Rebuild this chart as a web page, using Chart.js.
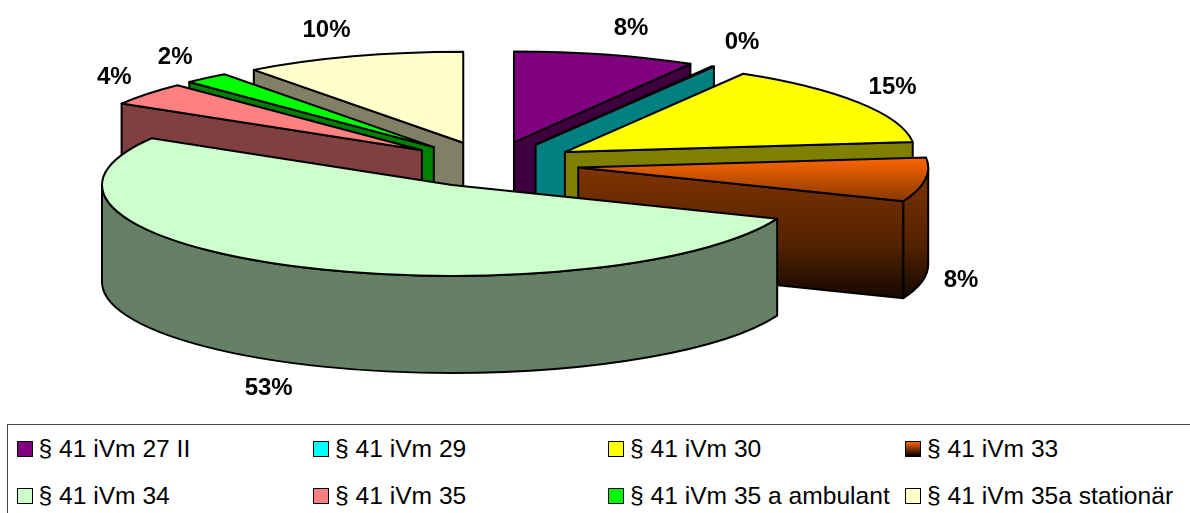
<!DOCTYPE html>
<html>
<head>
<meta charset="utf-8">
<title>§ 41 iVm</title>
<script src="https://cdn.jsdelivr.net/npm/chart.js@4"></script>
<style>
  html, body { margin: 0; padding: 0; background: #fff; overflow: hidden; width: 1190px; height: 513px; }
  #pie { display: block; }
  #legend {
    position: absolute; left: 7px; top: 424px; width: 1190px; height: 95px;
    border-top: 1px solid #444; border-left: 1px solid #444;
    font: 24.6px "Liberation Sans", Arial, sans-serif; color: #000;
  }
  #legend .item { position: absolute; white-space: nowrap; line-height: 28px; }
  #legend .box {
    position: absolute; left: -22px; top: 6px; width: 14px; height: 14px;
    border: 1.5px solid #000;
  }
</style>
</head>
<body>
<canvas id="pie" width="1190" height="424"></canvas>
<div id="legend"></div>
<script>
// Daten
const categories = ['§ 41 iVm 27 II', '§ 41 iVm 29', '§ 41 iVm 30', '§ 41 iVm 33',
                    '§ 41 iVm 34', '§ 41 iVm 35', '§ 41 iVm 35 a ambulant', '§ 41 iVm 35a stationär'];
const shares = [8.4, 0.1, 14.7, 7.8, 52.5, 4.1, 2.1, 10.2];
const topColors = ['#800080', '#00ffff', '#ffff00', '#ff6600', '#ccffcc', '#ff8080', '#00ff00', '#ffffcc'];
const sideColors = ['#400040', '#008080', '#808000', '#803300', '#668066', '#804040', '#008000', '#808066'];

// 3D-Einstellungen
const RADIUS = 350;
const FLATTEN = 0.26;   // Höhe/Breite der Ellipse
const DEPTH = 97;       // Höhe der Tortenwand
const EXPLODE = 88;     // Abstand der Stücke vom Mittelpunkt
const GRADIENT_SLICE = 3;  // das orange Stück hat einen Verlauf
const drawOrder = [0, 1, 2, 3, 7, 6, 5, 4];  // hinten zuerst, das große Stück zuletzt

function sideFill(ctx, arc, ey) {
    const i = arc.$index;
    if (i !== GRADIENT_SLICE) return sideColors[i];
    const grad = ctx.createLinearGradient(0, ey, 0, ey + RADIUS * FLATTEN * Math.sin(arc.endAngle) + DEPTH);
    grad.addColorStop(0, '#803300');
    grad.addColorStop(0.6, '#532200');
    grad.addColorStop(0.88, '#261000');
    grad.addColorStop(1, '#180a00');
    return grad;
}

// Zeichnet ein Stück: sichtbare Schnittflächen, Außenwand, dann die Oberseite
function drawSlice(ctx, arc) {
    const mid = (arc.startAngle + arc.endAngle) / 2;
    const a = arc.outerRadius;
    const b = a * FLATTEN;
    const ox = Math.cos(mid) * EXPLODE;
    const oy = Math.sin(mid) * EXPLODE * FLATTEN;
    const ex = arc.x + ox;
    const ey = arc.y + oy;
    const fill = sideFill(ctx, arc, ey);

    ctx.save();
    ctx.lineWidth = 2;
    ctx.lineJoin = 'round';
    ctx.strokeStyle = '#000';
    ctx.fillStyle = fill;

    // Schnittflächen, die zum Betrachter zeigen
    const face = (t) => {
        const px = ex + a * Math.cos(t);
        const py = ey + b * Math.sin(t);
        ctx.beginPath();
        ctx.moveTo(px, py);
        ctx.lineTo(ex, ey);
        ctx.lineTo(ex, ey + DEPTH);
        ctx.lineTo(px, py + DEPTH);
        ctx.closePath();
        ctx.fill();
        ctx.stroke();
    };
    if (Math.cos(arc.startAngle) < -0.001) face(arc.startAngle);
    if (Math.cos(arc.endAngle) > 0.001) face(arc.endAngle);

    // Außenwand, nur der vordere Teil
    const from = Math.max(arc.startAngle, 0);
    const to = Math.min(arc.endAngle, Math.PI);
    if (to > from) {
        ctx.beginPath();
        ctx.ellipse(ex, ey, a, b, 0, from, to);
        ctx.ellipse(ex, ey + DEPTH, a, b, 0, to, from, true);
        ctx.closePath();
        ctx.fill();
        ctx.stroke();
    }

    // Oberseite: das Bogen-Element von Chart.js in der gestauchten Ebene
    ctx.save();
    ctx.translate(ox, oy);
    ctx.translate(arc.x, arc.y);
    ctx.scale(1, FLATTEN);
    ctx.translate(-arc.x, -arc.y);
    if (arc.$index === GRADIENT_SLICE) {
        const grad = ctx.createLinearGradient(0, arc.y + a * Math.sin(arc.startAngle), 0, arc.y + a * Math.sin(arc.endAngle));
        grad.addColorStop(0, '#ff6600');
        grad.addColorStop(1, '#883800');
        arc.options = Object.assign({}, arc.options, { backgroundColor: grad });
    }
    arc.draw(ctx);
    ctx.restore();

    ctx.beginPath();
    ctx.moveTo(ex, ey);
    ctx.ellipse(ex, ey, a, b, 0, arc.startAngle, arc.endAngle);
    ctx.closePath();
    ctx.stroke();
    ctx.restore();
}

const pie3d = {
    id: 'pie3d',
    beforeDatasetsDraw(chart) {
        const ctx = chart.ctx;
        const arcs = chart.getDatasetMeta(0).data;
        arcs.forEach((arc, i) => { arc.$index = i; });
        drawOrder.forEach(i => drawSlice(ctx, arcs[i]));
        return false;  // Standardzeichnung überspringen
    },
    afterDraw(chart) {
        const ctx = chart.ctx;
        const arcs = chart.getDatasetMeta(0).data;
        const total = shares.reduce((s, v) => s + v, 0);
        ctx.save();
        ctx.font = 'bold 24px "Liberation Sans", Arial, sans-serif';
        ctx.fillStyle = '#000';
        ctx.textAlign = 'center';
        ctx.textBaseline = 'middle';
        arcs.forEach((arc, i) => {
            const mid = (arc.startAngle + arc.endAngle) / 2;
            const a = arc.outerRadius;
            const b = a * FLATTEN;
            const ex = arc.x + Math.cos(mid) * EXPLODE;
            const ey = arc.y + Math.sin(mid) * EXPLODE * FLATTEN;
            const pad = 22 + 14 * Math.abs(Math.cos(mid));
            const x = ex + a * Math.cos(mid) + Math.sign(Math.cos(mid)) * pad;
            const y = ey + 1.3 * b * Math.sin(mid) + (Math.sin(mid) > 0 ? DEPTH : 0);
            ctx.fillText(Math.round(shares[i] / total * 100) + '%', x, y);
        });
        ctx.restore();
    }
};

new Chart(document.getElementById('pie'), {
    type: 'pie',
    data: {
        labels: categories,
        datasets: [{ data: shares, backgroundColor: topColors, borderWidth: 0 }]
    },
    options: {
        responsive: false,
        animation: false,
        radius: RADIUS,
        layout: { padding: { left: 0, right: 208, top: 0, bottom: 95 } },
        plugins: { legend: { display: false }, tooltip: { enabled: false } }
    },
    plugins: [pie3d]
});

// Legende als HTML, 4 Spalten und 2 Zeilen
const legend = document.getElementById('legend');
const COLS = [30.5, 327, 622, 919];
categories.forEach((name, i) => {
    const item = document.createElement('div');
    item.className = 'item';
    item.style.left = COLS[i % 4] + 'px';
    item.style.top = (i < 4 ? 10 : 57) + 'px';
    item.textContent = name;
    const box = document.createElement('span');
    box.className = 'box';
    box.style.background = i === GRADIENT_SLICE ? 'linear-gradient(#ff6600, #000)' : topColors[i];
    item.appendChild(box);
    legend.appendChild(item);
});
</script>
</body>
</html>
